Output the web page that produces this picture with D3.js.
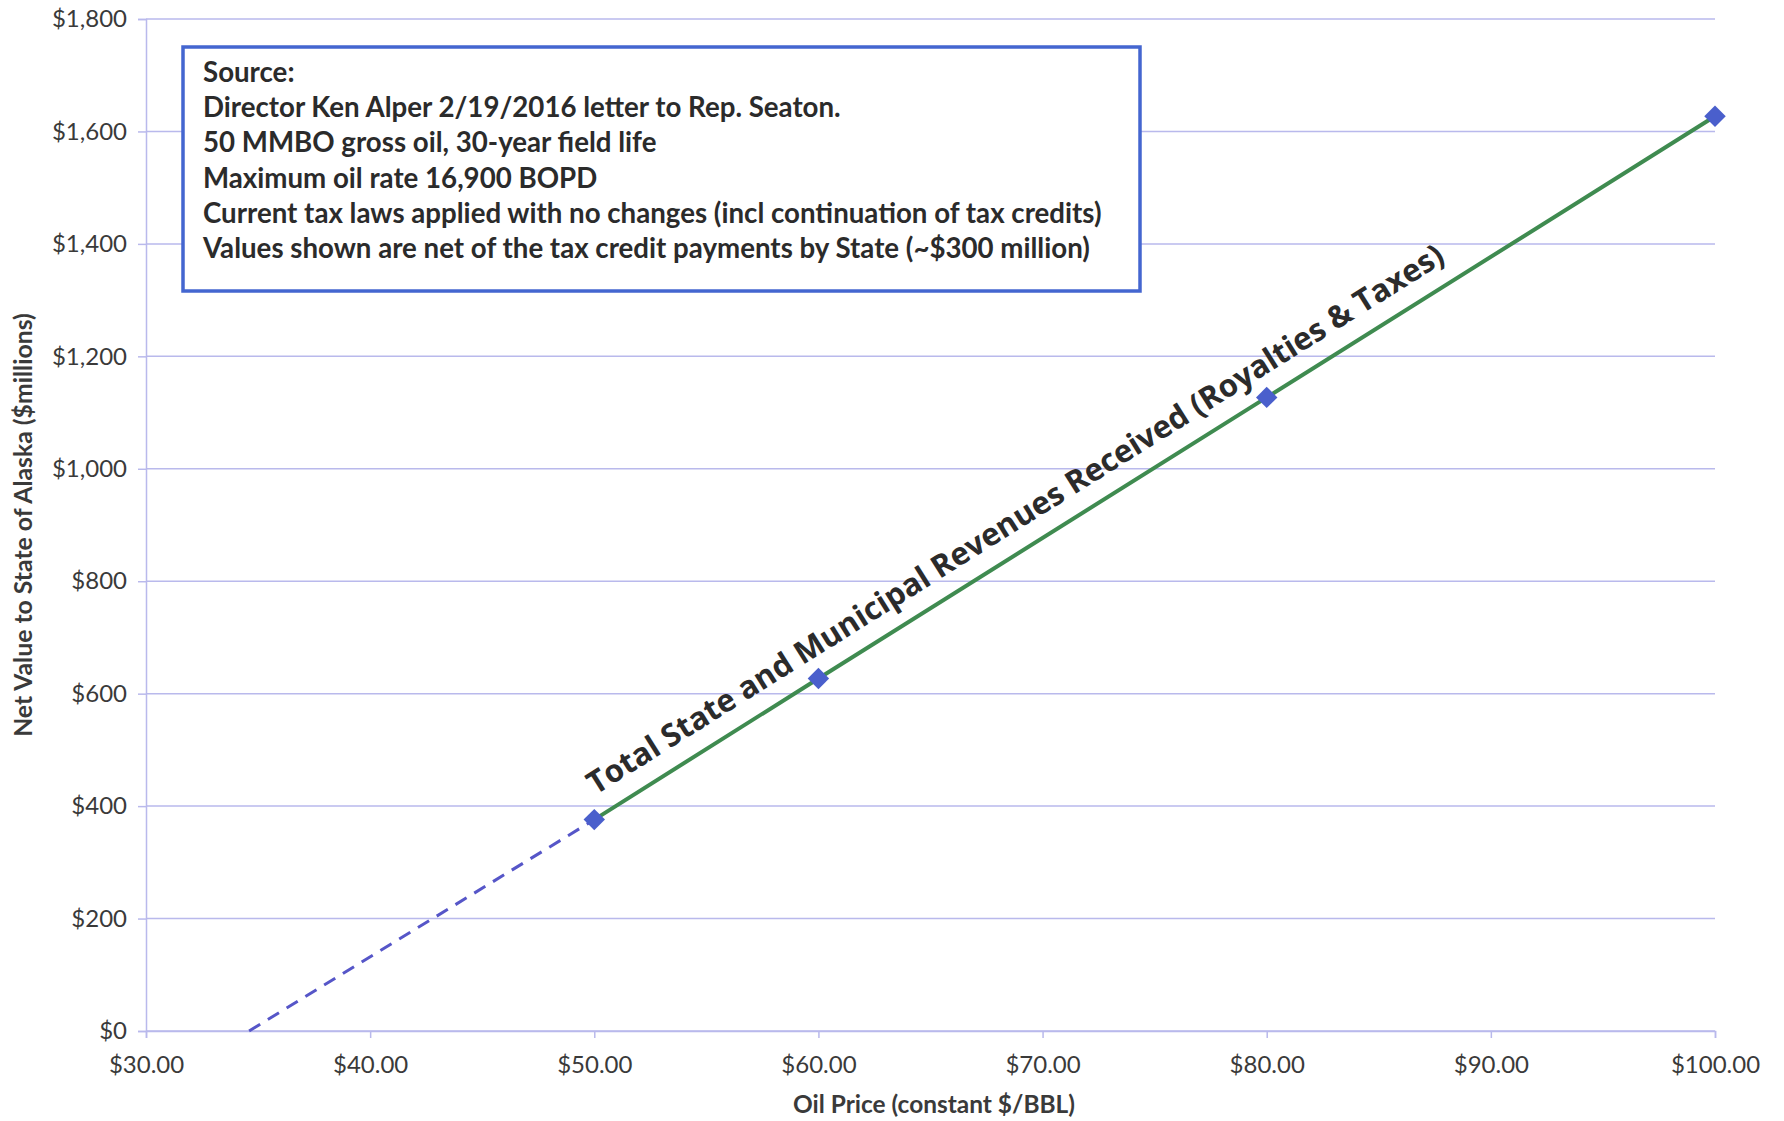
<!DOCTYPE html>
<html>
<head>
<meta charset="utf-8">
<script src="https://cdn.jsdelivr.net/npm/d3@7/dist/d3.min.js"></script>
<style>
  html, body { margin: 0; padding: 0; background: #ffffff; }
  svg { display: block; }
</style>
</head>
<body>
<svg id="chart" width="1784" height="1121"></svg>
<script>
// ---------- data ----------
const xTickValues = [30, 40, 50, 60, 70, 80, 90, 100];
const yTickValues = [0, 200, 400, 600, 800, 1000, 1200, 1400, 1600, 1800];
const prices = [50, 60, 80, 100];
const revenues = [376, 627, 1127, 1627];
const extrapPrices = [34.6, 50];
const extrapRevenues = [0, 376];
const noteLines = [
  "Source:",
  "Director Ken Alper 2/19/2016 letter to Rep. Seaton.",
  "50 MMBO gross oil, 30-year field life",
  "Maximum oil rate 16,900 BOPD",
  "Current tax laws applied with no changes (incl continuation of tax credits)",
  "Values shown are net of the tax credit payments by State (~$300 million)"
];
const seriesLabel = "Total State and Municipal Revenues Received (Royalties & Taxes)";
const xTitle = "Oil Price (constant $/BBL)";
const yTitle = "Net Value to State of Alaska ($millions)";

// ---------- layout ----------
const W = 1784, H = 1121;
const plot = { left: 146, right: 1715, top: 19, bottom: 1031 };
const svg = d3.select("#chart");
svg.append("rect").attr("width", W).attr("height", H).attr("fill", "#ffffff");

const x = d3.scaleLinear().domain([30, 100]).range([plot.left, plot.right]);
const y = d3.scaleLinear().domain([0, 1800]).range([plot.bottom, plot.top]);

const gridColor = "#b9b9ec";
const textColor = "#3a3a3a";
const fontFam = "Lato, 'Open Sans', sans-serif";

function fitText(sel, baseSize, target) {
  sel.style("font-size", baseSize + "px");
  const len = sel.node().getComputedTextLength();
  sel.style("font-size", (baseSize * target / len) + "px");
}

// gridlines
svg.append("g").selectAll("line").data(yTickValues).join("line")
  .attr("x1", plot.left).attr("x2", plot.right)
  .attr("y1", d => y(d)).attr("y2", d => y(d))
  .attr("stroke", gridColor).attr("stroke-width", 1.5);

// y axis
const yAxis = svg.append("g").attr("transform", `translate(${plot.left},0)`)
  .call(d3.axisLeft(y).tickValues(yTickValues).tickSize(8).tickPadding(11)
    .tickFormat(d => "$" + d3.format(",")(d)));
yAxis.select(".domain").attr("stroke", gridColor).attr("stroke-width", 1.5);
yAxis.selectAll(".tick line").attr("stroke", gridColor).attr("stroke-width", 1.5);
yAxis.selectAll(".tick text").attr("fill", textColor)
  .style("font-family", fontFam).style("font-size", "24px");

// x axis
const xAxis = svg.append("g").attr("transform", `translate(0,${plot.bottom})`)
  .call(d3.axisBottom(x).tickValues(xTickValues).tickSize(7).tickPadding(18)
    .tickFormat(d => "$" + d3.format(".2f")(d)));
xAxis.select(".domain").attr("stroke", gridColor).attr("stroke-width", 1.5);
xAxis.selectAll(".tick line").attr("stroke", gridColor).attr("stroke-width", 1.5);
xAxis.selectAll(".tick text").attr("fill", textColor)
  .style("font-family", fontFam).style("font-size", "24px");

// axis titles
const xt = svg.append("text")
  .attr("x", 934).attr("y", 1113)
  .attr("text-anchor", "middle").attr("fill", textColor)
  .style("font-family", fontFam).style("font-weight", "bold")
  .text(xTitle);
fitText(xt, 20, 282);
const yt = svg.append("text")
  .attr("transform", `translate(32,${525}) rotate(-90)`)
  .attr("text-anchor", "middle").attr("fill", textColor)
  .style("font-family", fontFam).style("font-weight", "bold")
  .text(yTitle);
fitText(yt, 20, 424);

// extrapolated dashed line
const extrap = extrapPrices.map((p, i) => [p, extrapRevenues[i]]);
svg.append("path").datum(extrap)
  .attr("d", d3.line().x(d => x(d[0])).y(d => y(d[1])))
  .attr("fill", "none").attr("stroke", "#5656c8").attr("stroke-width", 3)
  .attr("stroke-dasharray", "13,9");

// main series line
const pts = prices.map((p, i) => [p, revenues[i]]);
svg.append("path").datum(pts)
  .attr("d", d3.line().x(d => x(d[0])).y(d => y(d[1])))
  .attr("fill", "none").attr("stroke", "#3f8b50").attr("stroke-width", 4);

// diamond markers
svg.append("g").selectAll("path").data(pts).join("path")
  .attr("transform", d => `translate(${x(d[0])},${y(d[1])}) rotate(45)`)
  .attr("d", d3.symbol().type(d3.symbolSquare).size(230))
  .attr("fill", "#4a5fcc");

// rotated series label along the line
const p0 = [x(pts[0][0]), y(pts[0][1])];
const p1 = [x(pts[pts.length - 1][0]), y(pts[pts.length - 1][1])];
const ang = Math.atan2(p1[1] - p0[1], p1[0] - p0[0]) * 180 / Math.PI;
const lbl = svg.append("text")
  .attr("transform", `translate(${p0[0]},${p0[1]}) rotate(${ang})`)
  .attr("x", 14).attr("y", -20)
  .attr("fill", "#2b2b2b")
  .style("font-family", "'Open Sans', sans-serif").style("font-weight", "bold")
  .text(seriesLabel);
fitText(lbl, 30, 1005);

// note box
const box = { x: 183, y: 47, w: 957, h: 244 };
svg.append("rect")
  .attr("x", box.x).attr("y", box.y).attr("width", box.w).attr("height", box.h)
  .attr("fill", "#ffffff").attr("stroke", "#4466d0").attr("stroke-width", 3.5);
const noteG = svg.append("g");
const noteTexts = noteG.selectAll("text").data(noteLines).join("text")
  .attr("x", 203).attr("y", (d, i) => 82 + i * 35.2)
  .attr("fill", "#2b2b2b")
  .style("font-family", fontFam).style("font-weight", "bold").style("font-size", "24px")
  .text(d => d);
{
  const widest = d3.max(noteTexts.nodes(), n => n.getComputedTextLength());
  const fs = 24 * 899 / widest;
  noteTexts.style("font-size", fs + "px");
}
</script>
</body>
</html>
